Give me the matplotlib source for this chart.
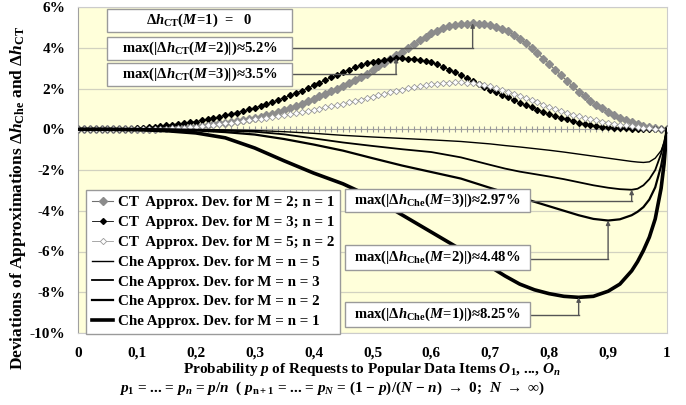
import numpy as np
import matplotlib
matplotlib.use('Agg')
import matplotlib.pyplot as plt
from matplotlib.patches import Rectangle

plt.rcParams['font.family'] = ['Liberation Serif', 'DejaVu Serif']
plt.rcParams['font.weight'] = 'bold'
plt.rcParams['mathtext.fontset'] = 'custom'
plt.rcParams['mathtext.rm'] = 'Liberation Serif:bold'
plt.rcParams['mathtext.it'] = 'Liberation Serif:italic:bold'
plt.rcParams['mathtext.bf'] = 'Liberation Serif:bold'
plt.rcParams['mathtext.fallback'] = 'stix'

# probability p for the CT curves (one point every 0.01)
p_ct = np.round(np.arange(0, 1.001, 0.01), 2)

# CT approximation deviations in %
ct_m2 = [0, 0, 0, 0, 0, 0, 0, 0, 0, 0,
         0.01, 0.01, 0.02, 0.03, 0.04, 0.05, 0.06, 0.08, 0.10, 0.12,
         0.15, 0.18, 0.21, 0.25, 0.29, 0.33, 0.37, 0.41, 0.45, 0.50,
         0.55, 0.62, 0.69, 0.77, 0.85, 0.93, 1.03, 1.14, 1.26, 1.38,
         1.50, 1.62, 1.74, 1.86, 1.98, 2.10, 2.25, 2.40, 2.56, 2.73,
         2.90, 3.08, 3.26, 3.44, 3.62, 3.80, 3.98, 4.17, 4.36, 4.54,
         4.70, 4.84, 4.96, 5.05, 5.12, 5.16, 5.19, 5.20, 5.19, 5.16,
         5.10, 5.02, 4.92, 4.80, 4.64, 4.45, 4.23, 3.99, 3.74, 3.47,
         3.20, 2.92, 2.65, 2.38, 2.11, 1.85, 1.62, 1.41, 1.21, 1.02,
         0.85, 0.70, 0.57, 0.45, 0.34, 0.25, 0.17, 0.10, 0.05, 0.02,
         0]
ct_m3 = [0, 0, 0, 0, 0, 0, 0, 0.01, 0.02, 0.03,
         0.05, 0.07, 0.09, 0.12, 0.16, 0.20, 0.23, 0.27, 0.30, 0.34,
         0.38, 0.43, 0.49, 0.55, 0.61, 0.68, 0.75, 0.82, 0.89, 0.97,
         1.05, 1.14, 1.23, 1.33, 1.44, 1.55, 1.66, 1.78, 1.90, 2.02,
         2.15, 2.28, 2.41, 2.54, 2.67, 2.80, 2.92, 3.04, 3.14, 3.23,
         3.30, 3.36, 3.41, 3.46, 3.50, 3.49, 3.47, 3.44, 3.40, 3.35,
         3.28, 3.18, 3.06, 2.93, 2.79, 2.65, 2.51, 2.37, 2.23, 2.09,
         1.95, 1.82, 1.69, 1.56, 1.43, 1.30, 1.19, 1.08, 0.96, 0.85,
         0.75, 0.66, 0.57, 0.48, 0.40, 0.33, 0.27, 0.22, 0.17, 0.13,
         0.10, 0.07, 0.05, 0.04, 0.03, 0.02, 0.01, 0.01, 0, 0,
         0]
ct_m5 = [0, 0, 0, 0, 0, 0, 0, 0, 0, 0,
         0, 0, 0, 0.01, 0.02, 0.03, 0.04, 0.06, 0.08, 0.10,
         0.13, 0.16, 0.19, 0.22, 0.26, 0.30, 0.33, 0.37, 0.40, 0.44,
         0.48, 0.52, 0.56, 0.60, 0.64, 0.68, 0.73, 0.78, 0.84, 0.89,
         0.95, 1.01, 1.07, 1.13, 1.19, 1.25, 1.32, 1.39, 1.46, 1.53,
         1.60, 1.67, 1.74, 1.81, 1.88, 1.95, 2.01, 2.06, 2.11, 2.16,
         2.20, 2.24, 2.27, 2.29, 2.30, 2.30, 2.29, 2.27, 2.23, 2.17,
         2.10, 2.02, 1.94, 1.85, 1.75, 1.65, 1.54, 1.43, 1.32, 1.21,
         1.10, 0.99, 0.89, 0.80, 0.72, 0.64, 0.57, 0.50, 0.44, 0.38,
         0.33, 0.28, 0.23, 0.19, 0.15, 0.11, 0.08, 0.05, 0.03, 0.01,
         0]
ct_m1 = [0] * len(p_ct)

# Che approximation deviations in %
p_che = [0, 0.05, 0.1, 0.15, 0.2, 0.25, 0.3, 0.35, 0.4, 0.45, 0.5, 0.55, 0.6, 0.65, 0.7,
         0.725, 0.75, 0.775, 0.8, 0.825, 0.85, 0.875, 0.9, 0.92, 0.94, 0.95, 0.96, 0.97,
         0.98, 0.99, 0.995, 1.0]
che_m1 = [0, 0, -0.02, -0.07, -0.18, -0.42, -0.92, -1.55, -2.15, -2.68, -3.35, -4.2, -5.05, -5.9, -6.75,
          -7.2, -7.6, -7.88, -8.07, -8.2, -8.25, -8.2, -7.95, -7.6, -6.95, -6.5, -5.95, -5.3,
          -4.4, -2.9, -1.7, 0]
che_m2 = [0, 0, 0, -0.02, -0.06, -0.14, -0.26, -0.48, -0.75, -1.05, -1.42, -1.78, -2.1, -2.42, -2.88,
          -3.1, -3.33, -3.56, -3.78, -4.0, -4.22, -4.4, -4.48, -4.42, -4.22, -4.05, -3.82, -3.45,
          -2.85, -1.8, -1.0, 0]
che_m3 = [0, 0, 0, -0.01, -0.03, -0.07, -0.12, -0.25, -0.45, -0.65, -0.82, -0.98, -1.12, -1.38, -1.75,
          -1.93, -2.08, -2.2, -2.32, -2.45, -2.6, -2.75, -2.87, -2.94, -2.97, -2.92, -2.75, -2.45,
          -2.0, -1.2, -0.65, 0]
che_m5 = [0, 0, 0, 0, -0.01, -0.03, -0.06, -0.12, -0.2, -0.3, -0.38, -0.45, -0.52, -0.6, -0.72,
          -0.8, -0.87, -0.95, -1.03, -1.12, -1.22, -1.32, -1.42, -1.5, -1.58, -1.61, -1.63, -1.6,
          -1.42, -1.05, -0.65, 0]

x_ticks = [0, 0.1, 0.2, 0.3, 0.4, 0.5, 0.6, 0.7, 0.8, 0.9, 1.0]
x_labels = ['0', '0,1', '0,2', '0,3', '0,4', '0,5', '0,6', '0,7', '0,8', '0,9', '1']
y_ticks = [-10, -8, -6, -4, -2, 0, 2, 4, 6]
y_labels = ['-10%', '-8%', '-6%', '-4%', '-2%', '0%', '2%', '4%', '6%']

fig = plt.figure(figsize=(6.86, 4.05), dpi=100)
ax = fig.add_axes([78/686, 72/405, 589/686, 326/405])
ax.set_facecolor('#FFFFDA')

ax.plot(p_ct, ct_m1, color='#9a9a9a', lw=0.6, marker='|', ms=5, mew=0.8, zorder=2)
l_m2, = ax.plot(p_ct, ct_m2, color='#707070', lw=0.8, marker='D', ms=3.8, mfc='#8c8c8c', mec='#8c8c8c', zorder=3,
                label='CT  Approx. Dev. for M = 2; n = 1')
l_m3, = ax.plot(p_ct, ct_m3, color='black', lw=0.6, marker='D', ms=3.0, mfc='black', mec='black', zorder=3,
                label='CT  Approx. Dev. for M = 3; n = 1')
l_m5, = ax.plot(p_ct, ct_m5, color='#9a9a9a', lw=0.6, marker='D', ms=3.2, mfc='white', mec='#9a9a9a', mew=0.6, zorder=3,
                label='CT  Approx. Dev. for M = 5; n = 2')
c5, = ax.plot(p_che, che_m5, color='black', lw=1.0, zorder=3, label='Che Approx. Dev. for M = n = 5')
c3, = ax.plot(p_che, che_m3, color='black', lw=1.3, zorder=3, label='Che Approx. Dev. for M = n = 3')
c2, = ax.plot(p_che, che_m2, color='black', lw=1.6, zorder=3, label='Che Approx. Dev. for M = n = 2')
c1, = ax.plot(p_che, che_m1, color='black', lw=2.6, zorder=3, label='Che Approx. Dev. for M = n = 1')

ax.set_xlim(0, 1)
ax.set_ylim(-10, 6)
ax.set_xticks(x_ticks)
ax.set_xticklabels(x_labels)
ax.set_yticks(y_ticks)
ax.set_yticklabels(y_labels)
ax.tick_params(axis='both', length=0, labelsize=11)
ax.tick_params(axis='x', pad=10)
ax.tick_params(axis='y', pad=9)
ax.grid(axis='y', color='#d2d2c0', lw=0.9)
ax.set_axisbelow(True)
for s in ax.spines.values():
    s.set_color('#cccccc')
ax.spines['left'].set_color('#a0a0a0')


def note(x0, y0, w, h, txt, ly=None, tx=None, ty=None):
    ax.add_patch(Rectangle((x0, y0), w, h, fc='white', ec='#9a9a9a', lw=1, zorder=6))
    ax.text(x0 + w/2, y0 + h/2, txt, ha='center', va='center', fontsize=10.5, zorder=7)
    if ly is not None:
        ax.plot([x0 + w, tx], [ly, ly], color='#555555', lw=1, zorder=4)
        ax.annotate('', xy=(tx, ty), xytext=(tx, ly), zorder=4,
                    arrowprops=dict(arrowstyle='-|>', color='#555555', lw=1, mutation_scale=6,
                                    shrinkA=0, shrinkB=0))


i2 = int(np.argmax(ct_m2))
i3 = int(np.argmax(ct_m3))
j3 = int(np.argmin(che_m3))
j2 = int(np.argmin(che_m2))
j1 = int(np.argmin(che_m1))

note(0.049, 4.75, 0.314, 1.15, r'$\Delta h_{\rm CT}(M\!=\!1)$  =   0')
note(0.049, 3.40, 0.314, 1.15, r'max(|$\Delta h_{\rm CT}(M\!=\!2)$|)≈5.2%', 4.0, p_ct[i2], ct_m2[i2])
note(0.049, 2.12, 0.314, 1.15, r'max(|$\Delta h_{\rm CT}(M\!=\!3)$|)≈3.5%', 2.7, p_ct[i3], ct_m3[i3])
note(0.453, -4.07, 0.314, 1.13, r'max(|$\Delta h_{\rm Che}(M\!=\!3)$|)≈2.97%', -3.53, p_che[j3], che_m3[j3])
note(0.453, -6.92, 0.314, 1.23, r'max(|$\Delta h_{\rm Che}(M\!=\!2)$|)≈4.48%', -6.38, p_che[j2], che_m2[j2])
note(0.453, -9.72, 0.314, 1.23, r'max(|$\Delta h_{\rm Che}(M\!=\!1)$|)≈8.25%', -9.13, p_che[j1], che_m1[j1])

leg = ax.legend(handles=[l_m2, l_m3, l_m5, c5, c3, c2, c1], loc='upper left',
                bbox_to_anchor=(0.0136, 0.439), fontsize=10.8, fancybox=False, framealpha=1,
                edgecolor='#9a9a9a', borderaxespad=0, handlelength=1.4, handletextpad=0.3,
                labelspacing=0.42, borderpad=0.4)
leg.set_zorder(8)

fig.text(372/686, 1 - 369/405, r'Probability $p$ of Requests to Popular Data Items $O_1$, ..., $O_n$',
         ha='center', va='center', fontsize=11)
fig.text(332/686, 1 - 388/405,
         r'$p_1$ = ... = $p_n$ = $p$/$n$  ( $p_{\rm n+1}$ = ... = $p_N$ = (1 $-$ $p$)/($N$ $-$ $n$) $\rightarrow$ 0;  $N$ $\rightarrow$ $\infty$)',
         ha='center', va='center', fontsize=11)
fig.text(18/686, 1 - 198/405, r'Deviations of Approximations $\Delta h_{\rm Che}$ and $\Delta h_{\rm CT}$',
         rotation=90, ha='center', va='center', fontsize=12.5)

fig.savefig('out.png', dpi=100)
